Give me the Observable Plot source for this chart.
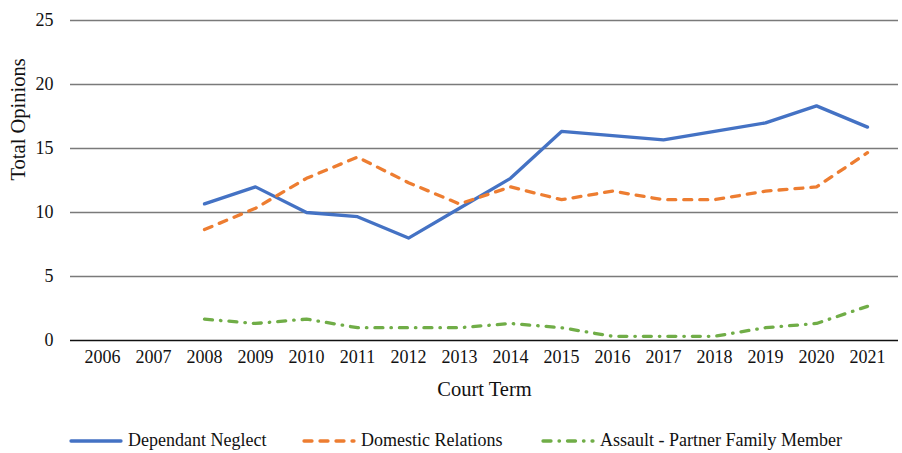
<!DOCTYPE html>
<html>
<head>
<meta charset="utf-8">
<script src="https://cdn.jsdelivr.net/npm/d3@7"></script>
<script src="https://cdn.jsdelivr.net/npm/@observablehq/plot@0.6"></script>
<style>
  body { margin: 0; background: #fff; font-family: "Liberation Serif", "Times New Roman", serif; }
  #chart svg, #chart svg text { font-family: "Liberation Serif", "Times New Roman", serif !important; }
  #legend { position: relative; height: 33px; font-size: 18px; color: #111; font-family: "Liberation Serif", "Times New Roman", serif; }
  .item { position: absolute; top: 4px; display: flex; align-items: center; height: 33px; }
  .item svg { margin-right: 4px; }
</style>
</head>
<body>
<div id="chart"></div>
<div id="legend"></div>
<script>
const terms = ["2006","2007","2008","2009","2010","2011","2012","2013","2014","2015","2016","2017","2018","2019","2020","2021"];
const dependantNeglect = [null, null, 10.67, 12, 10, 9.67, 8, 10.33, 12.67, 16.33, 16, 15.67, 16.33, 17, 18.33, 16.67];
const domesticRelations = [null, null, 8.67, 10.33, 12.67, 14.33, 12.33, 10.67, 12, 11, 11.67, 11, 11, 11.67, 12, 14.67];
const assaultPartner = [null, null, 1.67, 1.33, 1.67, 1, 1, 1, 1.33, 1, 0.33, 0.33, 0.33, 1, 1.33, 2.67];
const yTicks = [0, 5, 10, 15, 20, 25];

const seriesDefs = [
  {name: "Dependant Neglect", values: dependantNeglect, color: "#4472C4", dash: null},
  {name: "Domestic Relations", values: domesticRelations, color: "#ED7D31", dash: "8,8"},
  {name: "Assault - Partner Family Member", values: assaultPartner, color: "#70AD47", dash: "8,8,0.5,8"}
];

const table = (vals) => terms.map((t, i) => ({term: t, value: vals[i]})).filter(d => d.value != null);

const serif = "Liberation Serif, Times New Roman, serif";

const chart = Plot.plot({
  width: 902,
  height: 420,
  marginTop: 20,
  marginBottom: 80,
  marginLeft: 70,
  marginRight: 4,
  style: {fontFamily: serif, fontSize: "18px", color: "#111", background: "#fff"},
  x: {type: "point", domain: terms, padding: 0.5, label: null},
  y: {domain: [0, 25], label: null},
  marks: [
    Plot.ruleY(yTicks.filter(d => d > 0), {stroke: "#7a7a7a", strokeWidth: 1.3}),
    Plot.ruleY([0], {stroke: "#111", strokeWidth: 1.3}),
    ...seriesDefs.map(s => Plot.line(table(s.values), {
      x: "term", y: "value", stroke: s.color, strokeWidth: 3.3,
      strokeDasharray: s.dash, strokeLinecap: "round", strokeLinejoin: "round"
    })),
    Plot.axisX({tickSize: 0, tickPadding: 10, fontSize: 18, fontFamily: serif, fill: "#111"}),
    Plot.axisY({ticks: yTicks, tickSize: 0, tickPadding: 17, fontSize: 18, fontFamily: serif, fill: "#111"}),
    Plot.text(["Court Term"], {frameAnchor: "bottom", dy: 55, fontSize: 20.5, fill: "#111", fontFamily: serif}),
    Plot.text(["Total Opinions"], {frameAnchor: "left", dx: -52, rotate: -90, fontSize: 20.5, fill: "#111", fontFamily: serif})
  ]
});
document.getElementById("chart").appendChild(chart);

const legend = document.getElementById("legend");
const lefts = [68, 301, 540];
seriesDefs.forEach((s, i) => {
  const div = document.createElement("div");
  div.className = "item";
  div.style.left = lefts[i] + "px";
  const ns = "http://www.w3.org/2000/svg";
  const svg = document.createElementNS(ns, "svg");
  svg.setAttribute("width", 56); svg.setAttribute("height", 10);
  const line = document.createElementNS(ns, "line");
  line.setAttribute("x1", 3); line.setAttribute("x2", 53); line.setAttribute("y1", 5); line.setAttribute("y2", 5);
  line.setAttribute("stroke", s.color); line.setAttribute("stroke-width", 3.3);
  line.setAttribute("stroke-linecap", "round");
  if (s.dash) line.setAttribute("stroke-dasharray", s.dash);
  svg.appendChild(line);
  const span = document.createElement("span");
  span.textContent = s.name;
  div.appendChild(svg); div.appendChild(span);
  legend.appendChild(div);
});
</script>
</body>
</html>
